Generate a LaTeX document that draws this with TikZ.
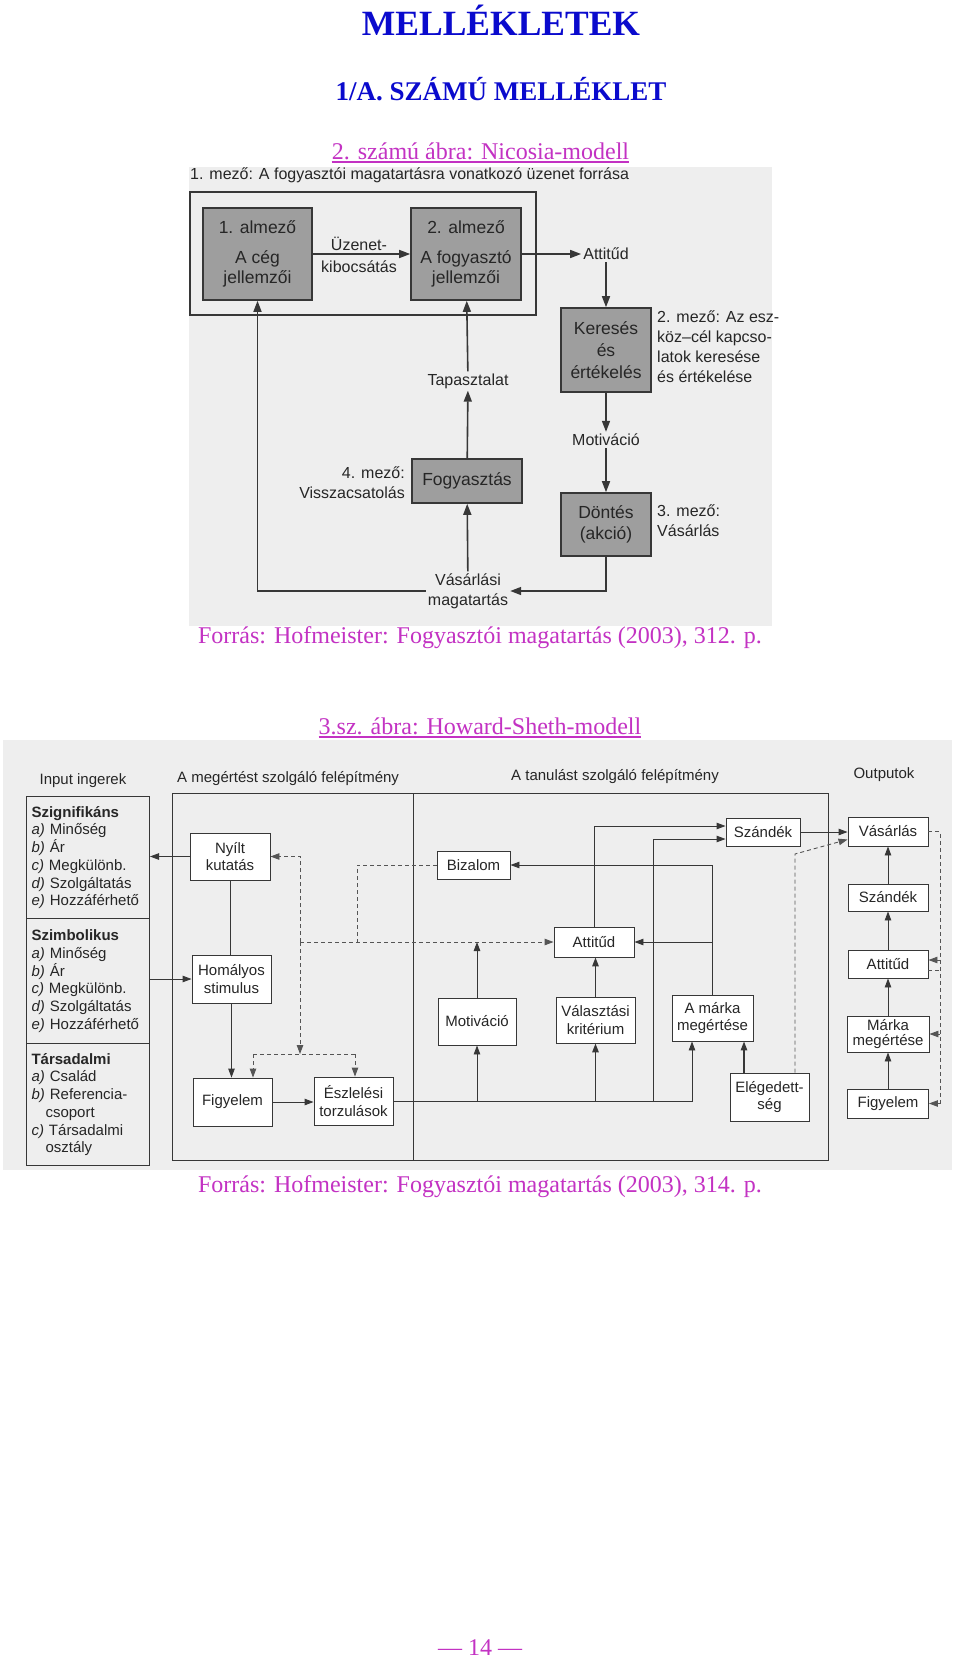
\documentclass[tikz,border=0pt]{standalone}
\usepackage{fontspec}
\setmainfont{Liberation Serif}
\newfontfamily\diagsans{Liberation Sans}
\usetikzlibrary{arrows.meta}
\definecolor{titleblue}{RGB}{10,10,205}
\definecolor{capmag}{RGB}{195,50,195}
\definecolor{linec}{RGB}{55,55,55}
\definecolor{boxgray}{RGB}{158,158,158}
\definecolor{scanbg}{RGB}{238,238,238}
\newcommand\TitleA{\bfseries\fontsize{35.5pt}{40pt}\selectfont}
\newcommand\TitleB{\bfseries\fontsize{27pt}{32pt}\selectfont}
\newcommand\CapFont{\fontsize{24pt}{28pt}\selectfont}
\newcommand\NicBox{\diagsans\fontsize{17.5pt}{20.5pt}\selectfont}
\newcommand\NicLab{\diagsans\fontsize{16pt}{20pt}\selectfont}
\newcommand\HSfont{\diagsans\fontsize{15pt}{17.7pt}\selectfont}
\begin{document}
\begin{tikzpicture}[x=1pt,y=-1pt,
 nbox/.style={draw=linec, fill=boxgray, line width=1.6pt, align=center, inner sep=0pt, font=\NicBox, text=black!85},
 nlab/.style={align=center, inner sep=2pt, font=\NicLab, text=black!85},
 narr/.style={draw=linec, line width=1.6pt, -{Triangle[length=11pt,width=8pt]}},
 hbox/.style={draw=linec, fill=white, line width=0.9pt, align=center, inner sep=0pt, font=\HSfont, text=black!85},
 hsec/.style={draw=linec, line width=1pt, align=left, inner xsep=5pt, inner ysep=0pt, text width=113pt, minimum width=123pt, minimum height=122pt, font=\HSfont, text=black!85, anchor=north west},
 hlab/.style={inner sep=1pt, font=\HSfont, text=black!85},
 harr/.style={draw=linec, line width=0.9pt, -{Triangle[length=9pt,width=6.5pt]}},
 hline/.style={draw=linec, line width=1pt},
 hdash/.style={draw=linec!85, line width=0.9pt, dash pattern=on 4pt off 3pt},
 hdarr/.style={hdash, -{Triangle[length=9pt,width=6.5pt]}},
 capt/.style={inner sep=0pt, font=\CapFont, text=capmag, anchor=base},
 uline/.style={draw=capmag, line width=1.2pt}
]
\useasboundingbox (0,0) rectangle (960,1657);
\fill[white] (0,0) rectangle (960,1657);
% scanned areas
\fill[scanbg] (189,167) rectangle (772,626);
\fill[scanbg] (3,740) rectangle (952,1170);

% titles
\node[anchor=base, inner sep=0pt, font=\TitleA, text=titleblue] (t1) at (501,35) {MELLÉKLETEK};
\node[anchor=base, inner sep=0pt, font=\TitleB, text=titleblue] (t2) at (501,100) {1/A. SZÁMÚ MELLÉKLET};
\node[capt] (c1) at (480.5,159) {2. számú ábra: Nicosia-modell};
\draw[uline] ([yshift=-3pt]c1.base west) -- ([yshift=-3pt]c1.base east);

% ---------- Nicosia model ----------
\node[nlab, anchor=west] (m1) at (188,175) {1. mező: A fogyasztói magatartásra vonatkozó üzenet forrása};
\draw[linec, line width=1.6pt] (190,192) rectangle (536,315);
\node[nbox, minimum width=109pt, minimum height=92pt] (b1) at (257.5,254) {1. almező\\[9pt]A cég\\jellemzői};
\node[nbox, minimum width=110pt, minimum height=92pt] (b2) at (466,254) {2. almező\\[9pt]A fogyasztó\\jellemzői};
\draw[narr] (b1) -- (b2);
\node[nlab] (uz) at (359,255) {Üzenet-\\[2pt]kibocsátás};
\node[nlab] (att) at (606,254) {Attitűd};
\draw[narr] (b2.east) -- (att.west);
\node[nbox, minimum width=90pt, minimum height=84pt] (ker) at (606,350) {Keresés\\[1.5pt]és\\[1.5pt]értékelés};
\draw[narr] (att) -- (ker);
\node[nlab, anchor=west, align=left] (m2) at (655,347) {2. mező: Az esz-\\köz–cél kapcso-\\latok keresése\\és értékelése};
\node[nlab] (mot) at (606,440) {Motiváció};
\draw[narr] (ker) -- (mot);
\node[nbox, minimum width=90pt, minimum height=63pt] (dont) at (606,524.5) {Döntés\\(akció)};
\draw[narr] (mot) -- (dont);
\node[nlab, anchor=west, align=left] (m3) at (655,521) {3. mező:\\Vásárlás};
\node[nlab] (vas) at (468,591) {Vásárlási\\magatartás};
\draw[narr] (dont.south) |- (vas.east);
\draw[narr] (vas.west) -| (b1.south);
\node[nbox, minimum width=110pt, minimum height=44pt] (fog) at (467,481) {Fogyasztás};
\draw[narr] (vas) -- (fog);
\node[nlab, anchor=east, align=right] (m4) at (407,483) {4. mező:\\Visszacsatolás};
\node[nlab] (tap) at (468,381) {Tapasztalat};
\draw[narr] (fog) -- (tap);
\draw[narr] (tap) -- (b2);

\node[capt] (s1) at (480,643) {Forrás: Hofmeister: Fogyasztói magatartás (2003), 312. p.};

% ---------- Howard-Sheth model ----------
\node[capt] (c2) at (480,734) {3.sz. ábra: Howard-Sheth-modell};
\draw[uline] ([yshift=-3pt]c2.base west) -- ([yshift=-3pt]c2.base east);

\node[hlab] (inp) at (83,781) {Input ingerek};
\node[hlab, anchor=west] (meg) at (176,779) {A megértést szolgáló felépítmény};
\node[hlab, anchor=west] (tan) at (510,777) {A tanulást szolgáló felépítmény};
\node[hlab] (outp) at (884,775) {Outputok};

\node[hsec] (sig) at (26,796) {\textbf{Szignifikáns}\\\textit{a)} Minőség\\\textit{b)} Ár\\\textit{c)} Megkülönb.\\\textit{d)} Szolgáltatás\\\textit{e)} Hozzáférhető};
\node[hsec, minimum height=125pt] (szim) at (26,918) {\textbf{Szimbolikus}\\\textit{a)} Minőség\\\textit{b)} Ár\\\textit{c)} Megkülönb.\\\textit{d)} Szolgáltatás\\\textit{e)} Hozzáférhető};
\node[hsec] (tars) at (26,1043) {\textbf{Társadalmi}\\\textit{a)} Család\\\textit{b)} Referencia-\\\hspace*{14pt}csoport\\\textit{c)} Társadalmi\\\hspace*{14pt}osztály};

\draw[hline] (172,793) rectangle (828,1160);
\draw[hline] (413,793) -- (413,1160);

\node[hbox, minimum width=80pt, minimum height=47pt] (nyilt) at (230,856.5) {Nyílt\\kutatás};
\node[hbox, minimum width=79pt, minimum height=48pt] (homaly) at (231.5,979) {Homályos\\stimulus};
\node[hbox, minimum width=79pt, minimum height=48pt] (figy1) at (232.5,1102) {Figyelem};
\node[hbox, minimum width=79pt, minimum height=48pt] (eszl) at (353.5,1101) {Észlelési\\torzulások};
\node[hbox, minimum width=73pt, minimum height=28pt] (bizalom) at (473.5,865) {Bizalom};
\node[hbox, minimum width=80pt, minimum height=30pt] (attitud1) at (594,942) {Attitűd};
\node[hbox, minimum width=74pt, minimum height=28pt] (szandek1) at (763,832) {Szándék};
\node[hbox, minimum width=78pt, minimum height=47pt] (motiv) at (477,1021.5) {Motiváció};
\node[hbox, minimum width=79pt, minimum height=46pt] (valaszt) at (595.5,1020) {Választási\\kritérium};
\node[hbox, minimum width=81pt, minimum height=46pt] (marka1) at (712.5,1018) {A márka\\megértése};
\node[hbox, minimum width=79pt, minimum height=48pt] (eleg) at (769.5,1097) {Elégedett-\\ség};

\node[hbox, minimum width=80pt, minimum height=29pt] (vasarlas) at (888,831.5) {Vásárlás};
\node[hbox, minimum width=80pt, minimum height=27pt] (szandek2) at (888,897.5) {Szándék};
\node[hbox, minimum width=80pt, minimum height=28pt] (attitud2) at (888,964) {Attitűd};
\node[hbox, minimum width=82pt, minimum height=36pt] (marka2) at (888,1034) {Márka\\[-2pt]megértése};
\node[hbox, minimum width=81pt, minimum height=29pt] (figy2) at (888,1103.5) {Figyelem};

% solid connectors (comprehension part)
\draw[harr] (nyilt.west) -- (nyilt.west -| sig.east);
\draw[harr] (homaly.west -| szim.east) -- (homaly.west);
\draw[hline] (nyilt.south) -- (nyilt.south |- homaly.north);
\draw[harr] (homaly.south) -- (homaly.south |- figy1.north);
\draw[harr] (figy1.east) -- (figy1.east -| eszl.west);

% dashed feedback
\coordinate (dv) at (300,942);
\coordinate (dbot) at (300,1054);
\coordinate (dl) at (253,1054);
\coordinate (dr) at (355,1054);
\coordinate (bj) at (357,942);
\draw[hdarr] (dv) |- (nyilt.east);
\draw[hdarr] (dv) -- (dbot);
\draw[hdash] (dl) -- (dr);
\draw[hdarr] (dl) -- (dl |- figy1.north);
\draw[hdarr] (dr) -- (dr |- eszl.north);
\draw[hdarr] (dv) -- (attitud1.west);
\draw[hdash] (bizalom.west) -| (bj);

% learning part
\coordinate (busR) at (692,1101);
\coordinate (bus2) at (653,1101);
\coordinate (ex) at (744,1073);
\coordinate (ed) at (795,854);
\draw[harr] (eszl.east) -| (marka1.south -| busR);
\draw[harr] (motiv.south |- eszl.east) -- (motiv.south);
\draw[harr, line width=1.4pt] (valaszt.south |- eszl.east) -- (valaszt.south);
\draw[harr] (motiv.north) -- (motiv.north |- dv);
\draw[harr, line width=1.4pt] (valaszt.north) -- (valaszt.north |- attitud1.south);
\draw[harr] (bus2) |- ([yshift=-7pt]szandek1.west);
\draw[harr] (attitud1.north) |- ([yshift=6pt]szandek1.west);
\draw[harr] (marka1.north) |- (bizalom.east);
\draw[harr] (marka1.north |- attitud1.east) -- (attitud1.east);
\draw[harr, line width=1.4pt] (eleg.north -| ex) -- (marka1.south -| ex);
\draw[harr] (szandek1.east) -- (szandek1.east -| vasarlas.west);
\draw[hdarr] (eleg.north -| ed) -- (ed) -- ([yshift=-8pt]vasarlas.west);

% outputs
\draw[harr] (szandek2) -- (vasarlas);
\draw[harr] (attitud2) -- (szandek2);
\draw[harr] (marka2) -- (attitud2);
\draw[harr] (figy2) -- (marka2);
\coordinate (rt) at (940,831.5);
\coordinate (rb) at (940,1103.5);
\coordinate (a2in) at ([yshift=4pt]attitud2.east);
\coordinate (a2out) at ([yshift=-6pt]attitud2.east);
\draw[hdash] (vasarlas.east) -- (rt) -- (rb);
\draw[hdarr] (rb) -- (figy2.east);
\draw[hdarr] (marka2.east -| rt) -- (marka2.east);
\draw[hdarr] (a2in -| rt) -- (a2in);
\draw[hdash] (a2out) -- (a2out -| rt);

\node[capt] (s2) at (480,1192) {Forrás: Hofmeister: Fogyasztói magatartás (2003), 314. p.};
\node[capt] (pg) at (480,1655) {— 14 —};
\end{tikzpicture}
\end{document}
